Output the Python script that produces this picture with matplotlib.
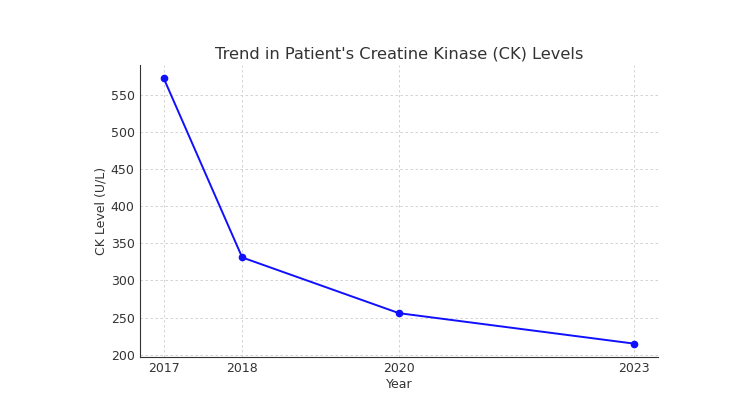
import matplotlib
matplotlib.use('Agg')
import matplotlib.pyplot as plt

years = [2017, 2018, 2020, 2023]
ck_levels = [572, 331, 256, 215]

plt.rcParams['text.color'] = '#333333'
plt.rcParams['axes.labelcolor'] = '#333333'
plt.rcParams['xtick.color'] = '#333333'
plt.rcParams['ytick.color'] = '#333333'

fig = plt.figure(figsize=(7.5, 3.97), dpi=100)
ax = fig.add_axes([0.187, 0.101, 0.69, 0.735])
ax.plot(years, ck_levels, marker='o', color='#1010ff', linewidth=1.4, markersize=4.5)

ax.set_title("Trend in Patient's Creatine Kinase (CK) Levels", fontsize=11.7, pad=5)
ax.set_xlabel('Year', fontsize=9, labelpad=2)
ax.set_ylabel('CK Level (U/L)', fontsize=9, labelpad=2)
ax.set_xticks(years)
ax.tick_params(labelsize=9, length=0, pad=4)
ax.grid(True, linestyle=(0, (3, 3)), color='#cccccc', linewidth=0.6)

for side in ['top', 'right']:
    ax.spines[side].set_visible(False)
for side in ['left', 'bottom']:
    ax.spines[side].set_color('#333333')

plt.savefig('out.png', dpi=100)
